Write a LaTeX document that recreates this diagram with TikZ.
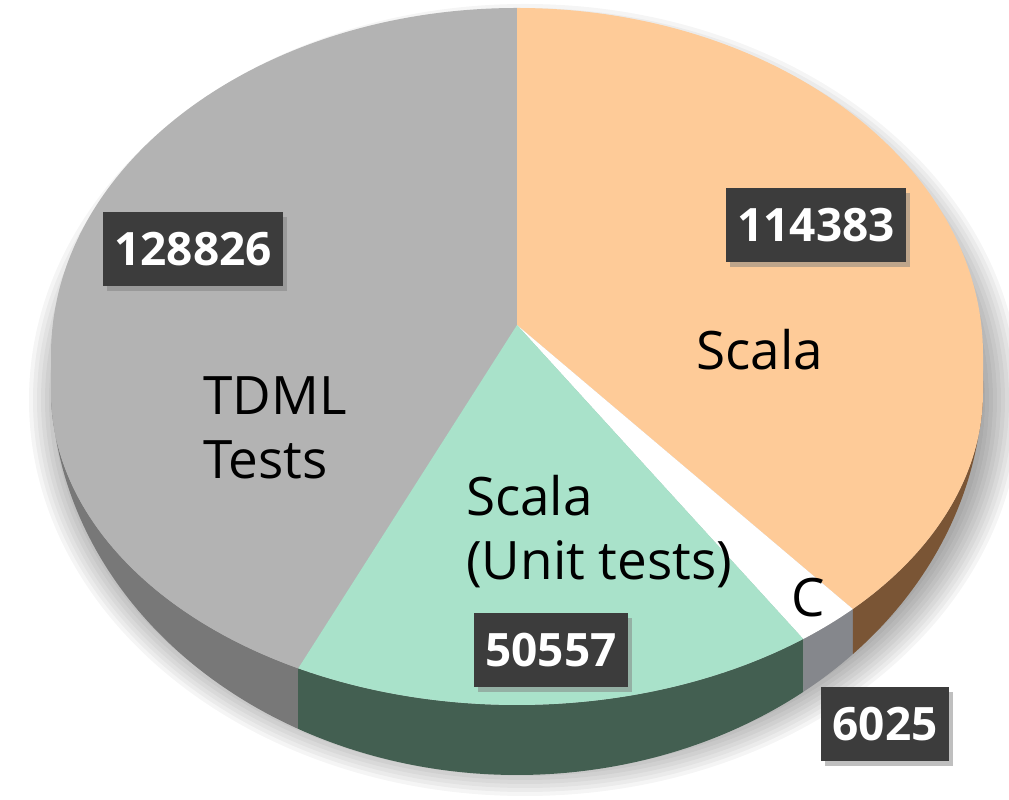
\documentclass[tikz,border=0pt]{standalone}
\usepackage{fontspec}
\setmainfont{Open Sans}
\usetikzlibrary{shadows}

\definecolor{tdmltop}{HTML}{B3B3B3}
\definecolor{tdmlside}{HTML}{787878}
\definecolor{scalatop}{HTML}{FECB98}
\definecolor{scalaside}{HTML}{7A5535}
\definecolor{unittop}{HTML}{A9E2CA}
\definecolor{unitside}{HTML}{435F51}
\definecolor{cside}{HTML}{85878C}
\definecolor{boxfill}{HTML}{3C3C3C}

\tikzset{
  valbox/.style={fill=boxfill, text=white, inner xsep=11pt, minimum height=74pt,
    font=\fontsize{46}{50}\selectfont\bfseries,
    drop shadow={shadow xshift=4pt, shadow yshift=-5pt, fill=black!50, opacity=.5}},
  catlabel/.style={font=\fontsize{53}{64}\selectfont, align=left, inner sep=0pt},
  topslice/.style={line join=round},
}

\begin{document}
\begin{tikzpicture}[x=1pt,y=1pt]
\useasboundingbox (0,0) rectangle (1009,800);
\coordinate (ctop) at (517,445);
\coordinate (cfront) at (517,408);
\coordinate (cbase) at (517,419);
\coordinate (apex) at (517,475);
\coordinate (ptop) at (517,792);

% soft shadow
\foreach \r in {0,...,9}
  \fill[black, opacity=.04] (525,400) ellipse ({460+4*\r} and {360+4*\r});

% sides
\foreach \a/\b/\col in {-180/-118/tdmlside, -118/-52.1/unitside, -52.1/-43.9/cside, -43.9/0/scalaside}
  \fill[\col] ([shift={(\a:466 and 313)}]cfront)
    arc[start angle=\a, end angle=\b, x radius=466, y radius=313]
    -- ([shift={(\b:466 and 394)}]cbase)
    arc[start angle=\b, end angle=\a, x radius=466, y radius=394] -- cycle;

% top
\fill[tdmltop, topslice] (apex) -- (ptop)
  arc[start angle=90, end angle=180, x radius=466, y radius=347] -- ++(0,-37)
  arc[start angle=180, end angle=242, x radius=466, y radius=313] -- cycle;
\fill[scalatop, topslice] (apex) -- (ptop)
  arc[start angle=90, end angle=0, x radius=466, y radius=347] -- ++(0,-37)
  arc[start angle=0, end angle=-43.9, x radius=466, y radius=313] -- cycle;
\fill[white, topslice] (apex) -- ([shift={(-43.9:466 and 313)}]cfront)
  arc[start angle=-43.9, end angle=-52.1, x radius=466, y radius=313] -- cycle;
\fill[unittop, topslice] (apex) -- ([shift={(-52.1:466 and 313)}]cfront)
  arc[start angle=-52.1, end angle=-118, x radius=466, y radius=313] -- cycle;

% labels
\node[catlabel, anchor=west] (tdml) at (203,372) {TDML\\Tests};
\node[catlabel] (scala) at (760,450) {Scala};
\node[catlabel, anchor=west] (unit) at (466,268) {Scala\\(Unit tests)};
\node[catlabel] (clang) at (808,202) {C};

\node[valbox] (vtdml) at (193,551) {128826};
\node[valbox] (vscala) at (816,575) {114383};
\node[valbox] (vunit) at (551,150) {50557};
\node[valbox] (vclang) at (885,76) {6025};
\end{tikzpicture}
\end{document}
